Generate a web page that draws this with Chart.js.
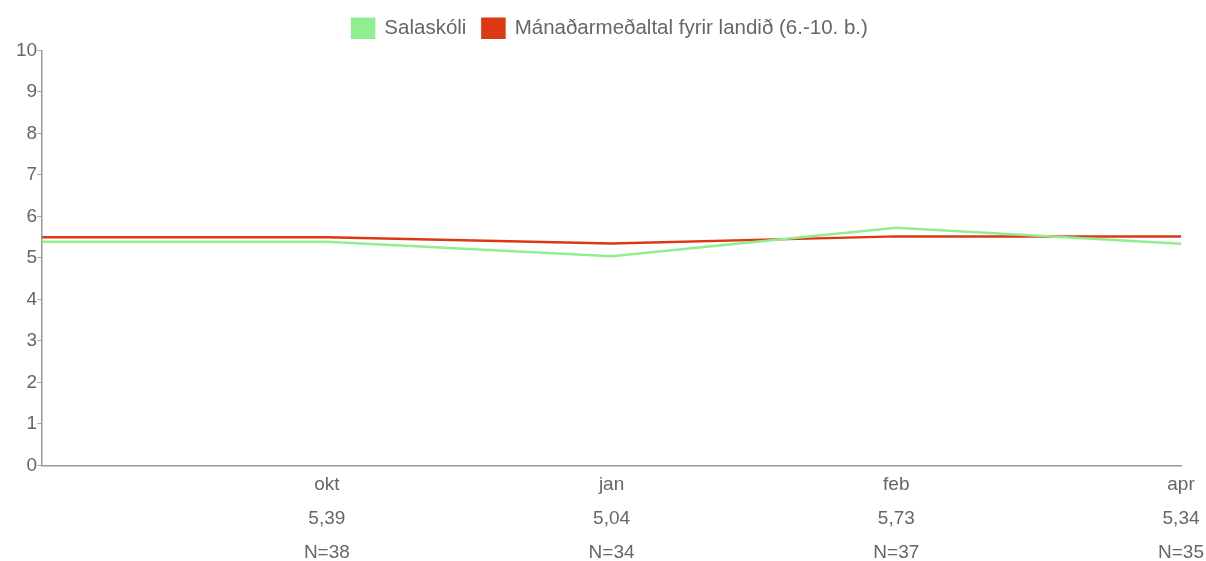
<!DOCTYPE html>
<html>
<head>
<meta charset="utf-8">
<script src="https://cdn.jsdelivr.net/npm/chart.js@4"></script>
<style>
  html, body { margin: 0; padding: 0; background: #fff; }
  #wrap { width: 1206px; height: 561px; }
</style>
</head>
<body>
<div id="wrap"><canvas id="chart"></canvas></div>
<script>
const months = ["", "okt", "jan", "feb", "apr"];
const schoolLabels = ["", "5,39", "5,04", "5,73", "5,34"];
const nLabels = ["", "N=38", "N=34", "N=37", "N=35"];
const schoolValues = [5.39, 5.39, 5.04, 5.73, 5.34];
const nationalValues = [5.5, 5.5, 5.35, 5.52, 5.52];
const yTicks = [0, 1, 2, 3, 4, 5, 6, 7, 8, 9, 10];

const labels = months.map((m, i) => [m, schoolLabels[i], nLabels[i]]);

Chart.defaults.font.family = "'Liberation Sans', Arial, sans-serif";
Chart.defaults.font.size = 20;
Chart.defaults.color = "#666";

// small gap tweak between the legend and the top of the plot
const legendGap = {
  id: "legendGap",
  beforeInit(chart) {
    const fit = chart.legend.fit;
    chart.legend.fit = function () {
      fit.call(this);
      this.height += 2;
    };
  },
};

const ctx = document.getElementById("chart").getContext("2d");
new Chart(ctx, {
  type: "line",
  data: {
    labels: labels,
    datasets: [
      {
        label: "Salaskóli",
        data: schoolValues,
        borderColor: "#90ee90",
        backgroundColor: "#90ee90",
        borderWidth: 2.5,
        pointRadius: 0,
        tension: 0,
        fill: false,
      },
      {
        label: "Mánaðarmeðaltal fyrir landið (6.-10. b.)",
        data: nationalValues,
        borderColor: "#dc3912",
        backgroundColor: "#dc3912",
        borderWidth: 2.5,
        pointRadius: 0,
        tension: 0,
        fill: false,
      },
    ],
  },
  options: {
    responsive: true,
    maintainAspectRatio: false,
    animation: false,
    layout: { padding: { top: 2, left: 16, right: 2, bottom: -11 } },
    plugins: {
      legend: {
        display: true,
        labels: { boxWidth: 22, boxHeight: 19, padding: 16, color: "#666", font: { size: 20.5 } },
      },
      tooltip: { enabled: false },
    },
    scales: {
      y: {
        min: 0,
        max: 10,
        afterBuildTicks: (axis) => {
          axis.ticks = yTicks.map((v) => ({ value: v }));
        },
        grid: { drawOnChartArea: false, drawTicks: true, tickLength: 5, color: "#aaa" },
        border: { color: "#999", width: 1.5 },
        ticks: { padding: 0, color: "#666", font: { size: 19 } },
      },
      x: {
        grid: { display: false, drawTicks: false },
        border: { color: "#999", width: 1.5 },
        ticks: {
          padding: 2,
          maxRotation: 0,
          autoSkip: false,
          color: "#666",
          font: { size: 19, lineHeight: 1.8 },
        },
      },
    },
  },
  plugins: [legendGap],
});
</script>
</body>
</html>
